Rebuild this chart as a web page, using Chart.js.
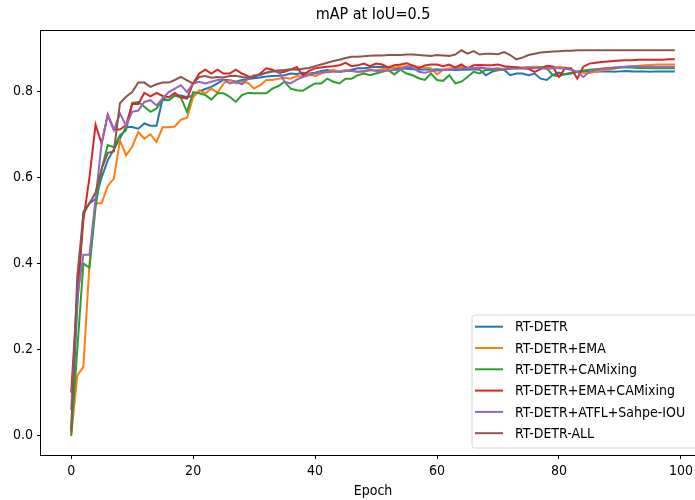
<!DOCTYPE html>
<html>
<head>
<meta charset="utf-8">
<script src="https://cdn.jsdelivr.net/npm/chart.js@4.4.1/dist/chart.umd.min.js"></script>
<style>
  html, body { margin: 0; padding: 0; background: #fff; overflow: hidden; }
  #wrap { width: 712px; height: 500px; }
</style>
</head>
<body>
<div id="wrap"><canvas id="mapChart" width="712" height="500"></canvas></div>
<script>
// epochs 0..99
const epochs = Array.from({ length: 100 }, (_, i) => i);

const seriesNames = ['RT-DETR', 'RT-DETR+EMA', 'RT-DETR+CAMixing', 'RT-DETR+EMA+CAMixing', 'RT-DETR+ATFL+Sahpe-IOU', 'RT-DETR-ALL'];
const seriesColors = ['#1f77b4', '#ff7f0e', '#2ca02c', '#d62728', '#9467bd', '#8c564b'];

const rtdetr = [
  0.010,0.300,0.520,0.540,0.550,0.600,0.640,0.665,0.690,0.717,
  0.717,0.713,0.725,0.720,0.720,0.783,0.779,0.790,0.790,0.786,
  0.790,0.800,0.805,0.810,0.818,0.826,0.826,0.822,0.826,0.828,
  0.830,0.832,0.834,0.835,0.836,0.837,0.841,0.840,0.843,0.841,
  0.843,0.847,0.849,0.847,0.845,0.847,0.850,0.853,0.853,0.855,
  0.857,0.856,0.855,0.854,0.853,0.852,0.851,0.850,0.851,0.850,
  0.851,0.850,0.850,0.849,0.850,0.850,0.851,0.850,0.837,0.845,
  0.849,0.850,0.837,0.841,0.841,0.837,0.841,0.829,0.826,0.838,
  0.843,0.839,0.841,0.845,0.846,0.845,0.845,0.846,0.846,0.845,
  0.846,0.847,0.846,0.846,0.846,0.845,0.846,0.846,0.846,0.846
];
const rtdetrEma = [
  0.000,0.140,0.160,0.400,0.540,0.540,0.580,0.597,0.686,0.651,
  0.671,0.705,0.690,0.700,0.682,0.716,0.716,0.718,0.734,0.738,
  0.786,0.802,0.795,0.806,0.796,0.818,0.826,0.818,0.822,0.819,
  0.806,0.814,0.826,0.826,0.829,0.831,0.829,0.835,0.834,0.841,
  0.835,0.841,0.845,0.849,0.845,0.849,0.847,0.845,0.845,0.848,
  0.849,0.851,0.853,0.855,0.857,0.858,0.858,0.857,0.855,0.853,
  0.839,0.850,0.853,0.855,0.856,0.855,0.853,0.854,0.852,0.850,
  0.848,0.852,0.855,0.856,0.855,0.856,0.857,0.856,0.857,0.857,
  0.856,0.855,0.850,0.845,0.842,0.842,0.845,0.848,0.850,0.852,
  0.855,0.857,0.858,0.859,0.860,0.861,0.862,0.862,0.862,0.862
];
const rtdetrCam = [
  0.000,0.200,0.400,0.390,0.530,0.620,0.675,0.670,0.698,0.709,
  0.773,0.775,0.764,0.752,0.760,0.779,0.779,0.790,0.785,0.752,
  0.798,0.795,0.791,0.781,0.795,0.795,0.787,0.775,0.791,0.796,
  0.795,0.795,0.795,0.806,0.812,0.822,0.806,0.802,0.801,0.810,
  0.818,0.818,0.829,0.822,0.818,0.829,0.829,0.837,0.841,0.837,
  0.841,0.845,0.849,0.839,0.850,0.841,0.837,0.830,0.826,0.841,
  0.826,0.824,0.837,0.818,0.822,0.833,0.845,0.841,0.850,0.849,
  0.850,0.850,0.852,0.853,0.853,0.853,0.853,0.856,0.853,0.837,
  0.835,0.840,0.843,0.845,0.848,0.850,0.851,0.852,0.853,0.854,
  0.855,0.855,0.855,0.854,0.854,0.853,0.853,0.853,0.853,0.853
];
const rtdetrEmaCam = [
  0.100,0.330,0.500,0.600,0.722,0.678,0.746,0.711,0.711,0.721,
  0.770,0.770,0.796,0.788,0.796,0.789,0.786,0.796,0.786,0.783,
  0.818,0.841,0.850,0.841,0.850,0.841,0.841,0.850,0.841,0.835,
  0.832,0.841,0.853,0.850,0.843,0.845,0.850,0.856,0.837,0.847,
  0.853,0.855,0.857,0.858,0.860,0.866,0.858,0.860,0.864,0.858,
  0.864,0.862,0.855,0.860,0.862,0.865,0.860,0.853,0.860,0.862,
  0.862,0.858,0.862,0.855,0.862,0.853,0.860,0.861,0.860,0.860,
  0.862,0.858,0.857,0.855,0.853,0.852,0.845,0.851,0.859,0.857,
  0.833,0.853,0.853,0.829,0.857,0.864,0.866,0.868,0.869,0.870,
  0.871,0.872,0.872,0.873,0.873,0.873,0.873,0.873,0.874,0.874
];
const rtdetrAtfl = [
  0.060,0.320,0.420,0.420,0.550,0.680,0.745,0.709,0.748,0.720,
  0.752,0.755,0.775,0.779,0.767,0.783,0.798,0.806,0.814,0.798,
  0.818,0.822,0.818,0.822,0.826,0.827,0.818,0.822,0.816,0.829,
  0.837,0.837,0.843,0.845,0.847,0.822,0.818,0.827,0.833,0.837,
  0.841,0.844,0.844,0.845,0.845,0.847,0.847,0.845,0.847,0.850,
  0.847,0.847,0.848,0.849,0.850,0.857,0.855,0.845,0.843,0.846,
  0.848,0.849,0.850,0.852,0.852,0.853,0.853,0.855,0.853,0.852,
  0.853,0.851,0.853,0.852,0.853,0.855,0.854,0.853,0.852,0.853,
  0.853,0.852,0.850,0.845,0.833,0.845,0.849,0.852,0.854,0.855,
  0.856,0.857,0.858,0.858,0.857,0.857,0.857,0.857,0.857,0.857
];
const rtdetrAll = [
  0.010,0.370,0.515,0.540,0.565,0.620,0.657,0.660,0.772,0.787,
  0.798,0.820,0.820,0.810,0.816,0.820,0.820,0.826,0.833,0.825,
  0.818,0.833,0.835,0.831,0.833,0.832,0.835,0.836,0.833,0.831,
  0.835,0.839,0.843,0.847,0.848,0.849,0.851,0.850,0.852,0.854,
  0.858,0.862,0.866,0.870,0.873,0.877,0.880,0.880,0.881,0.882,
  0.883,0.883,0.884,0.884,0.884,0.885,0.885,0.884,0.883,0.882,
  0.884,0.883,0.882,0.885,0.895,0.887,0.893,0.885,0.887,0.887,
  0.886,0.891,0.884,0.874,0.878,0.884,0.887,0.890,0.891,0.892,
  0.893,0.894,0.894,0.895,0.895,0.895,0.895,0.895,0.895,0.895,
  0.895,0.895,0.895,0.895,0.895,0.895,0.895,0.895,0.895,0.895
];

const xTicks = [0, 20, 40, 60, 80, 100];
const yTicks = [0.0, 0.2, 0.4, 0.6, 0.8];

const titleText = 'mAP at IoU=0.5';
const xLabel = 'Epoch';

const allSeries = [rtdetr, rtdetrEma, rtdetrCam, rtdetrEmaCam, rtdetrAtfl, rtdetrAll];

// matplotlib style 5% margins
const flat = allSeries.flat();
const yLo = Math.min(...flat), yHi = Math.max(...flat);
const yPad = (yHi - yLo) * 0.05;
const xLo = epochs[0], xHi = epochs[epochs.length - 1];
const xPad = (xHi - xLo) * 0.05;

const FONT = "'DejaVu Sans Condensed', 'DejaVu Sans', sans-serif";

// title, box spines and legend drawn inside axes
const framePlugin = {
  id: 'frame',
  afterDatasetsDraw(chart) {
    const { ctx, chartArea: a } = chart;
    ctx.save();
    ctx.strokeStyle = '#000';
    ctx.lineWidth = 1;
    ctx.strokeRect(a.left - 0.5, a.top - 0.5, a.right - a.left + 1, a.bottom - a.top + 1);

    ctx.fillStyle = '#000';
    ctx.font = '16px ' + FONT;
    ctx.textAlign = 'center';
    ctx.textBaseline = 'middle';
    ctx.fillText(titleText, (a.left + a.right) / 2, 15);

    const boxW = 226, boxH = 133, rowH = 21.3;
    const bx = a.right - 7 - boxW, by = a.bottom - 7 - boxH;
    ctx.beginPath();
    ctx.roundRect(bx, by, boxW, boxH, 3);
    ctx.fillStyle = 'rgba(255,255,255,0.8)';
    ctx.fill();
    ctx.strokeStyle = 'rgba(204,204,204,0.8)';
    ctx.stroke();

    ctx.font = '14px ' + FONT;
    ctx.textAlign = 'left';
    seriesNames.forEach((name, i) => {
      const y = by + 11.7 + i * rowH;
      ctx.beginPath();
      ctx.moveTo(bx + 3, y);
      ctx.lineTo(bx + 31, y);
      ctx.strokeStyle = seriesColors[i];
      ctx.lineWidth = 2;
      ctx.stroke();
      ctx.fillStyle = '#000';
      ctx.fillText(name, bx + 43, y + 1);
    });
    ctx.restore();
  }
};

new Chart(document.getElementById('mapChart'), {
  type: 'line',
  data: {
    datasets: seriesNames.map((name, i) => ({
      label: name,
      data: epochs.map((e, j) => ({ x: e, y: allSeries[i][j] })),
      borderColor: seriesColors[i],
      backgroundColor: seriesColors[i],
      borderWidth: 2,
      pointRadius: 0,
      tension: 0,
      fill: false,
      order: seriesNames.length - i
    }))
  },
  options: {
    responsive: false,
    animation: false,
    devicePixelRatio: 1,
    layout: { padding: { top: 31, right: 7, left: 0, bottom: 0 } },
    plugins: {
      legend: { display: false },
      title: { display: false },
      tooltip: { enabled: false }
    },
    scales: {
      x: {
        type: 'linear',
        min: xLo - xPad,
        max: xHi + xPad,
        afterBuildTicks: s => { s.ticks = xTicks.map(v => ({ value: v })); },
        afterFit: s => { s.height = 45; },
        ticks: { color: '#000', font: { family: FONT, size: 14 }, padding: 4, maxRotation: 0 },
        grid: { drawOnChartArea: false, drawTicks: true, tickLength: 4, color: '#000', tickColor: '#000' },
        border: { display: false },
        title: { display: true, text: xLabel, color: '#000', font: { family: FONT, size: 14 }, padding: { top: 0, bottom: 0 } }
      },
      y: {
        type: 'linear',
        min: yLo - yPad,
        max: yHi + yPad,
        afterBuildTicks: s => { s.ticks = yTicks.map(v => ({ value: v })); },
        afterFit: s => { s.width = 41; },
        ticks: { color: '#000', font: { family: FONT, size: 14 }, padding: 4, callback: v => v.toFixed(1) },
        grid: { drawOnChartArea: false, drawTicks: true, tickLength: 4, color: '#000', tickColor: '#000' },
        border: { display: false }
      }
    }
  },
  plugins: [framePlugin]
});
</script>
</body>
</html>
